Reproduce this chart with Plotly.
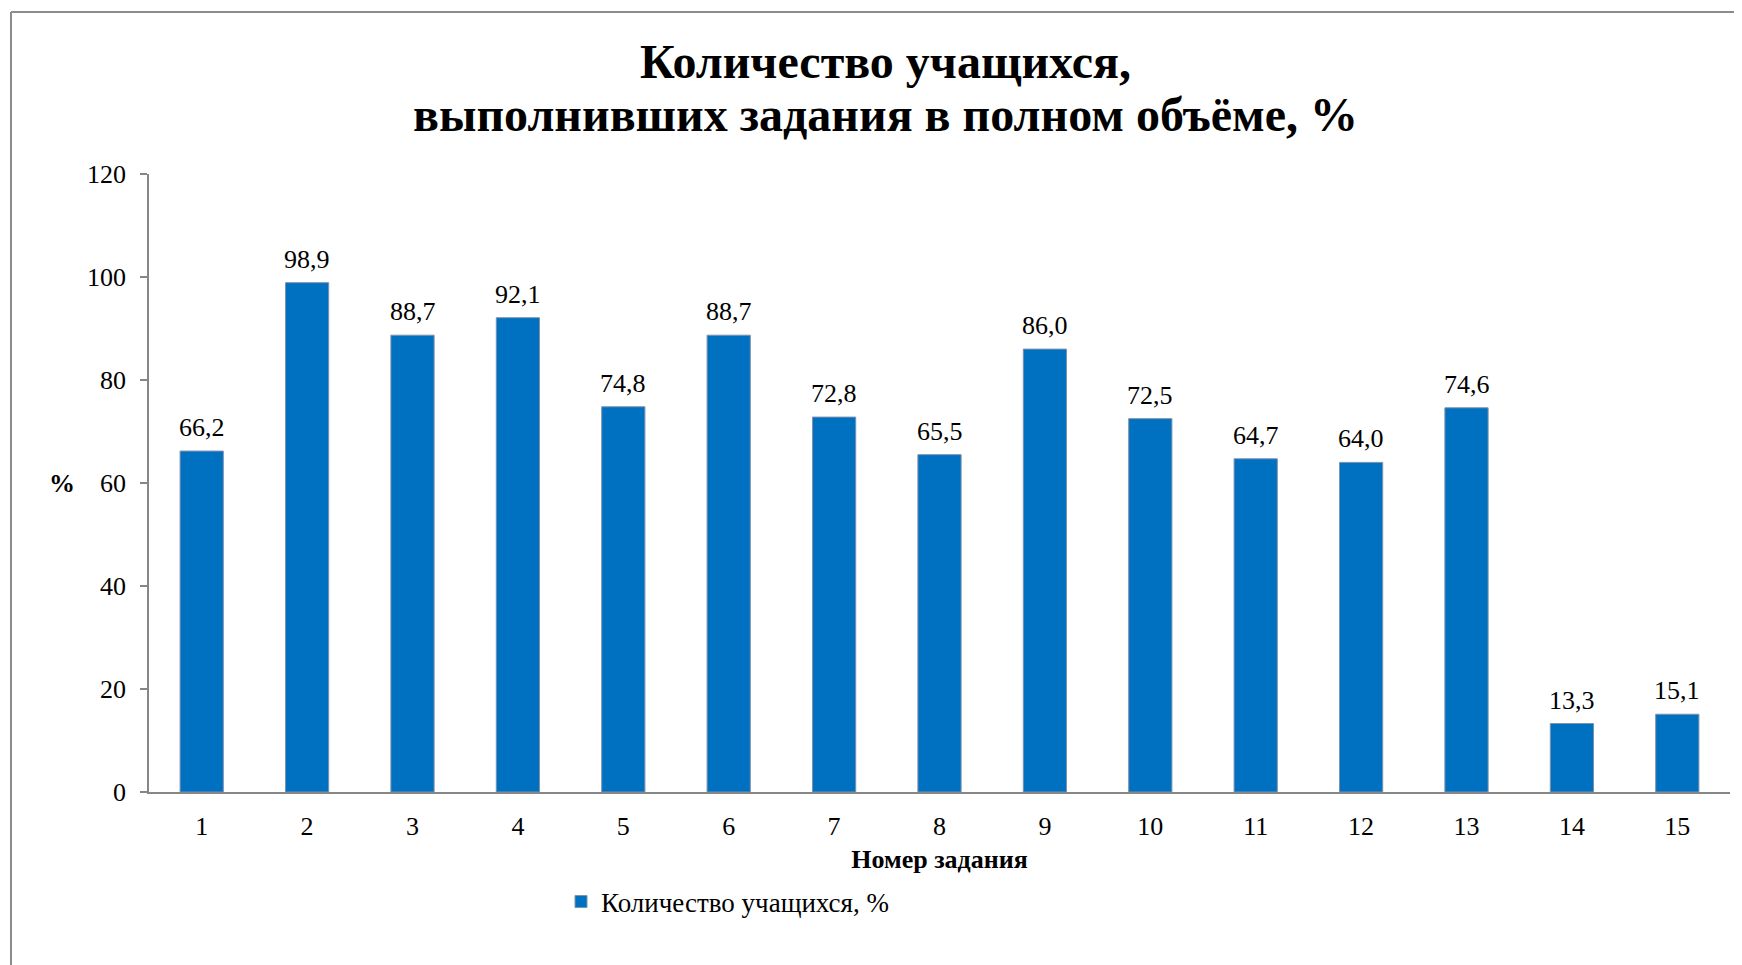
import plotly.graph_objects as go

tasks = [str(i) for i in range(1, 16)]
values = [66.2, 98.9, 88.7, 92.1, 74.8, 88.7, 72.8, 65.5, 86.0, 72.5, 64.7, 64.0, 74.6, 13.3, 15.1]
labels = [f"{v:.1f}".replace(".", ",") for v in values]
series_name = "Количество учащихся, %"
title_lines = ["Количество учащихся,", "выполнивших задания в полном объёме, %"]
x_title = "Номер задания"
y_title = "%"
y_ticks = [0, 20, 40, 60, 80, 100, 120]

W, H = 1742, 965
OFF = 8  # page body margin shifts the figure by this many pixels
ML, MR, MT, MB = 149 - OFF, 12 + OFF, 174 - OFF, 173 + OFF
PW, PH = W - ML - MR, H - MT - MB

def px_x(px):
    return (px - OFF - ML) / PW

def px_y(py):
    return (H - MB - (py - OFF)) / PH

FONT = "Liberation Serif"

fig = go.Figure()
fig.add_trace(go.Bar(
    x=tasks, y=values, name=series_name,
    marker=dict(color="#0070C0", line=dict(color="#7E92AE", width=1)),
    width=0.41,
))

for i, (v, lab) in enumerate(zip(values, labels)):
    fig.add_annotation(x=i, y=v, xref="x", yref="y", text=lab, showarrow=False,
                       xanchor="center", yanchor="bottom", yshift=7,
                       font=dict(family=FONT, size=26, color="black"))

fig.update_layout(
    width=W, height=H,
    margin=dict(l=ML, r=MR, t=MT, b=MB),
    paper_bgcolor="white", plot_bgcolor="white",
    font=dict(family=FONT, size=26, color="black"),
    showlegend=True,
    legend=dict(orientation="h", x=px_x(561), xanchor="left", y=px_y(902), yanchor="middle",
                font=dict(family=FONT, size=27, color="black"), itemwidth=30,
                bgcolor="rgba(0,0,0,0)"),
)

fig.update_xaxes(type="category", range=[-0.5, len(tasks) - 0.5],
                 showline=True, linecolor="#868686", linewidth=1.5,
                 ticks="", showgrid=False, zeroline=False, ticklabelstandoff=10,
                 tickfont=dict(family=FONT, size=26),
                 title=dict(text="<b>" + x_title + "</b>", font=dict(family=FONT, size=26), standoff=10))
fig.update_yaxes(range=[0, 120], tickvals=y_ticks, showline=True, linecolor="#868686", linewidth=1.5,
                 ticks="outside", ticklen=7, tickcolor="#868686", tickwidth=1.5,
                 showgrid=False, zeroline=False, ticklabelstandoff=9,
                 tickfont=dict(family=FONT, size=26))

fig.add_annotation(text="<b>" + y_title + "</b>", xref="paper", yref="paper",
                   x=px_x(62), y=px_y(484), xanchor="center", yanchor="middle", showarrow=False,
                   font=dict(family=FONT, size=26, color="black"))

for line, cy in zip(title_lines, [61, 114]):
    fig.add_annotation(text="<b>" + line + "</b>", xref="paper", yref="paper",
                       x=px_x(885), y=px_y(cy), xanchor="center", yanchor="middle",
                       showarrow=False, font=dict(family=FONT, size=48, color="black"))

# outer frame (left and top edges visible)
fig.add_shape(type="line", xref="paper", yref="paper", x0=px_x(11), x1=px_x(11), y0=px_y(12), y1=px_y(H + 20),
              line=dict(color="#8C8C8C", width=2))
fig.add_shape(type="line", xref="paper", yref="paper", x0=px_x(11), x1=px_x(W + 20), y0=px_y(12), y1=px_y(12),
              line=dict(color="#8C8C8C", width=2))

fig.write_html("out.html")
